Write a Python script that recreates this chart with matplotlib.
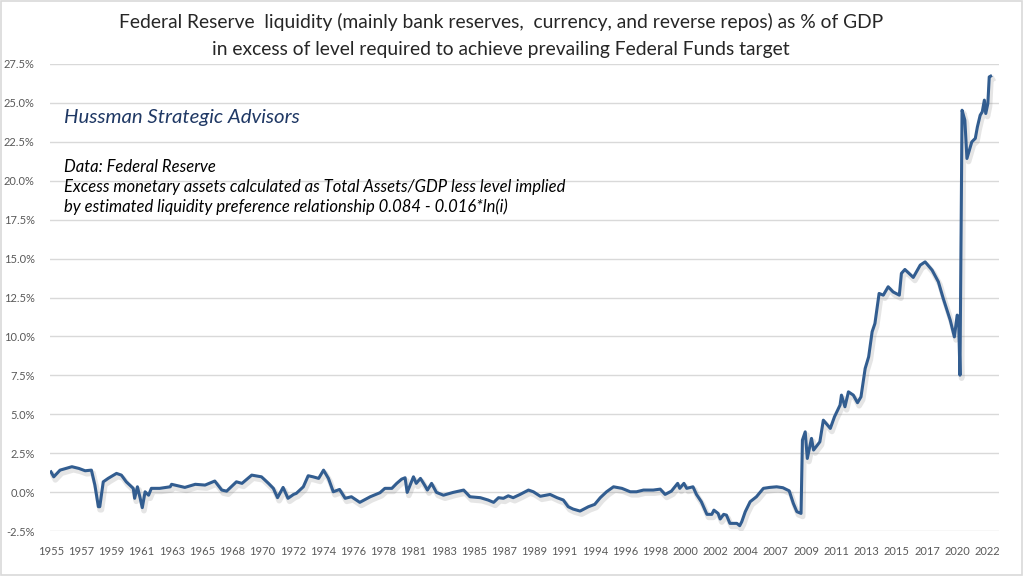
import matplotlib
matplotlib.use("Agg")
import matplotlib.pyplot as plt
import matplotlib.patheffects as pe
from matplotlib.patches import Rectangle

years = [1955.0, 1955.2, 1955.65, 1956.5, 1957.0, 1957.45, 1957.9, 1958.15, 1958.4, 1958.5,
         1958.75, 1959.1, 1959.7, 1960.05, 1960.4, 1960.9, 1961.0, 1961.2, 1961.4, 1961.55,
         1961.75, 1962.0, 1962.2, 1962.8, 1963.55, 1963.65, 1964.6, 1965.35, 1966.05, 1966.75,
         1967.25, 1967.6, 1968.3, 1968.7, 1969.4, 1970.1, 1970.6, 1970.95, 1971.25, 1971.65,
         1972.0, 1972.4, 1972.6, 1973.1, 1973.45, 1973.8, 1974.2, 1974.55, 1974.9, 1975.25,
         1975.7, 1976.1, 1976.55, 1977.15, 1977.9, 1978.6, 1978.95, 1979.45, 1979.8, 1980.15,
         1980.4, 1980.55, 1981.0, 1981.2, 1981.5, 1981.8, 1982.0, 1982.3, 1982.65, 1983.15,
         1983.85, 1984.6, 1985.05, 1985.8, 1986.35, 1986.75, 1987.1, 1987.45, 1987.8, 1988.15,
         1988.65, 1989.25, 1989.6, 1990.1, 1990.8, 1991.3, 1991.75, 1992.1, 1992.45, 1992.95,
         1993.55, 1994.0, 1994.4, 1994.85, 1995.35, 1995.95, 1996.55, 1997.0, 1997.5, 1998.2,
         1998.7, 1999.05, 1999.5, 1999.95, 2000.1, 2000.4, 2000.6, 2001.05, 2001.3, 2001.65,
         2002.05, 2002.4, 2002.55, 2002.85, 2003.0, 2003.25, 2003.45, 2003.7, 2004.2, 2004.4,
         2004.55, 2004.8, 2005.15, 2005.6, 2006.1, 2006.55, 2007.05, 2007.5, 2007.95, 2008.25,
         2008.5, 2008.8, 2008.9, 2009.1, 2009.25, 2009.55, 2009.7, 2010.15, 2010.4, 2010.9,
         2011.2, 2011.6, 2011.7, 2011.95, 2012.2, 2012.55, 2012.85, 2013.1, 2013.4, 2013.65,
         2013.9, 2014.1, 2014.4, 2014.7, 2015.05, 2015.4, 2015.85, 2016.0, 2016.25, 2016.85,
         2017.35, 2017.7, 2018.2, 2018.65, 2019.0, 2019.5, 2019.8, 2020.0, 2020.1, 2020.2,
         2020.35, 2020.55, 2020.7, 2021.05, 2021.3, 2021.45, 2021.65, 2021.8, 2021.95, 2022.05,
         2022.2, 2022.3, 2022.4]

excess_pct = [1.30, 0.98, 1.41, 1.63, 1.52, 1.37, 1.41, 0.45, -0.94, -0.94,
              0.66, 0.88, 1.20, 1.09, 0.66, 0.24, -0.40, 0.34, -0.40, -1.00,
              0.02, -0.20, 0.24, 0.24, 0.34, 0.50, 0.30, 0.50, 0.45, 0.71,
              0.13, 0.06, 0.66, 0.56, 1.09, 0.98, 0.56, 0.24, -0.36, 0.30,
              -0.40, -0.15, -0.08, 0.34, 1.05, 0.98, 0.88, 1.41, 0.88, 0.02,
              0.17, -0.40, -0.30, -0.66, -0.30, -0.04, 0.24, 0.24, 0.56, 0.83,
              0.92, -0.02, 0.98, 0.56, 0.88, 0.45, 0.13, 0.56, -0.02, -0.20,
              -0.02, 0.13, -0.30, -0.36, -0.51, -0.66, -0.36, -0.40, -0.24, -0.36,
              -0.15, 0.13, 0.02, -0.27, -0.15, -0.36, -0.51, -0.94, -1.09, -1.22,
              -0.94, -0.79, -0.36, 0.02, 0.34, 0.24, 0.02, 0.02, 0.13, 0.13,
              0.19, -0.15, 0.06, 0.56, 0.24, 0.56, 0.24, 0.34, -0.15, -0.62,
              -1.43, -1.43, -1.16, -1.37, -1.73, -1.43, -1.48, -2.01, -2.01, -2.16,
              -1.90, -1.26, -0.62, -0.30, 0.24, 0.30, 0.34, 0.28, 0.08, -0.73,
              -1.26, -1.37, 3.34, 3.87, 2.16, 3.45, 2.70, 3.23, 4.62, 4.09,
              4.84, 5.59, 6.23, 5.48, 6.44, 6.23, 5.74, 6.12, 7.94, 8.69,
              10.30, 10.83, 12.76, 12.65, 13.19, 12.86, 12.65, 14.05, 14.30, 13.79,
              14.58, 14.79, 14.26, 13.51, 12.44, 11.05, 9.97, 11.37, 11.26, 7.51,
              24.53, 23.89, 21.43, 22.50, 22.72, 23.46, 24.21, 24.43, 25.18, 24.32,
              24.96, 26.67, 26.72]

tick_years = [1955, 1957, 1959, 1961, 1963, 1965, 1968, 1970, 1972, 1974, 1976, 1978, 1981,
              1983, 1985, 1987, 1989, 1991, 1994, 1996, 1998, 2000, 2002, 2004, 2007, 2009,
              2011, 2013, 2015, 2017, 2020, 2022]
y_ticks = [-2.5, 0.0, 2.5, 5.0, 7.5, 10.0, 12.5, 15.0, 17.5, 20.0, 22.5, 25.0, 27.5]

plt.rcParams['font.family'] = ['Lato', 'DejaVu Sans']

fig = plt.figure(figsize=(10.24, 5.76), dpi=100)
ax = fig.add_axes([50/1024, 1 - 531/576, (999 - 50)/1024, (531 - 64)/576])

line_color = '#325D90'
ax.plot(years, excess_pct, color=line_color, lw=2.2, solid_joinstyle='round',
        path_effects=[pe.SimpleLineShadow(offset=(1.2, -2.2), shadow_color='#7F7F7F', alpha=0.2, linewidth=4),
                      pe.Normal()], zorder=3)

ax.set_ylim(-2.5, 27.5)
ax.set_xlim(1954.93, 2023.0)
ax.set_yticks(y_ticks)
ax.set_yticklabels([f"{v:.1f}%" for v in y_ticks])
# category-style axis: a label every 26 months
tick_pos = [1955 + 26 * k / 12 for k in range(len(tick_years))]
ax.set_xticks(tick_pos)
ax.set_xticklabels([str(y) for y in tick_years])
ax.tick_params(axis='both', length=0, labelsize=8, labelcolor='#595959')
ax.tick_params(axis='x', pad=11)
ax.tick_params(axis='y', pad=11)
ax.grid(axis='y', color='#D9D9D9', lw=1.0)
ax.set_axisbelow(True)
for s in ax.spines.values():
    s.set_visible(False)

fig.text(501/1024, 1 - 22/576, "Federal Reserve  liquidity (mainly bank reserves,  currency, and reverse repos) as % of GDP",
         ha='center', va='center', fontsize=13.9, color='#262626')
fig.text(501/1024, 1 - 50/576, "in excess of level required to achieve prevailing Federal Funds target",
         ha='center', va='center', fontsize=13.9, color='#262626')

fig.text(64/1024, 1 - 118/576, "Hussman Strategic Advisors", ha='left', va='center',
         fontsize=14.7, style='italic', color='#1F3864')
fig.text(64/1024, 1 - 167/576, "Data: Federal Reserve", ha='left', va='center',
         fontsize=12, style='italic', color='#000000')
fig.text(64/1024, 1 - 187/576, "Excess monetary assets calculated as Total Assets/GDP less level implied",
         ha='left', va='center', fontsize=12, style='italic', color='#000000')
fig.text(64/1024, 1 - 207/576, "by estimated liquidity preference relationship 0.084 - 0.016*ln(i)",
         ha='left', va='center', fontsize=12, style='italic', color='#000000')

fig.patches.append(Rectangle((0.001, 0.002), 0.997, 0.996, transform=fig.transFigure,
                             fill=False, edgecolor='#D9D9D9', lw=1.2))

fig.savefig('out.png', dpi=100)
